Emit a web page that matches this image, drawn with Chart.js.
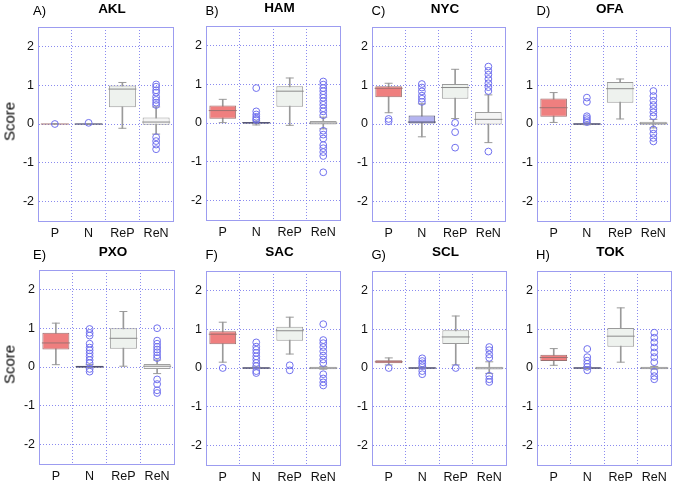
<!DOCTYPE html>
<html><head><meta charset="utf-8">
<script src="https://cdn.jsdelivr.net/npm/chart.js@4/dist/chart.umd.min.js"></script>
<style>
html,body{margin:0;padding:0;background:#fff;}
body{width:685px;height:483px;position:relative;overflow:hidden;font-family:"Liberation Sans",Arial,sans-serif;}
canvas{position:absolute;}
.ttl{position:absolute;font-weight:bold;font-size:13.5px;line-height:13.5px;text-align:center;color:#000;white-space:nowrap;}
.lbl{position:absolute;font-size:13px;line-height:13px;color:#000;white-space:nowrap;}
.score{position:absolute;font-family:"Liberation Sans",Arial,sans-serif;font-weight:normal;font-size:15px;line-height:15px;width:60px;height:15px;text-align:center;transform:rotate(-90deg);color:#000;}
</style></head><body>
<script>
// ---------- data ----------
const categories = ['P', 'N', 'ReP', 'ReN'];
const cities = ['AKL', 'HAM', 'NYC', 'OFA', 'PXO', 'SAC', 'SCL', 'TOK'];
const panelLetters = ['A)', 'B)', 'C)', 'D)', 'E)', 'F)', 'G)', 'H)'];
const yTicks = [-2, -1, 0, 1, 2];
const yRange = [-2.5, 2.5];
const yTitle = 'Score';

// per panel, per category (P, N, ReP, ReN)
const boxLow = [
  [0, -0.01, 0.43, -0.02],
  [0.11, -0.02, 0.42, -0.04],
  [0.69, 0.0, 0.65, -0.01],
  [0.19, -0.02, 0.55, -0.02],
  [0.45, -0.02, 0.47, -0.05],
  [0.61, -0.02, 0.70, -0.03],
  [0.12, -0.02, 0.62, -0.04],
  [0.18, -0.02, 0.55, -0.03]
];
const boxHigh = [
  [0.01, 0.01, 0.99, 0.17],
  [0.45, 0.02, 0.95, 0.05],
  [0.97, 0.22, 1.03, 0.31],
  [0.66, 0.02, 1.08, 0.06],
  [0.88, 0.03, 1.00, 0.08],
  [0.95, 0.02, 1.06, 0.03],
  [0.20, 0.02, 0.97, 0.03],
  [0.34, 0.02, 1.03, 0.03]
];
const medians = [
  [0, 0, 0.90, 0.05],
  [0.32, 0.01, 0.82, 0.0],
  [0.92, 0.05, 0.94, 0.12],
  [0.42, 0, 0.91, 0.02],
  [0.62, 0.01, 0.74, 0.02],
  [0.87, 0, 0.96, 0.0],
  [0.16, 0, 0.80, 0.0],
  [0.27, 0, 0.82, 0.0]
];
const whiskerLow = [
  [0, 0, -0.11, -0.26],
  [0.01, -0.05, -0.06, -0.15],
  [0.29, -0.33, 0.14, -0.48],
  [0.04, -0.02, 0.13, -0.10],
  [0.06, -0.02, 0.02, -0.17],
  [0.15, -0.02, 0.36, -0.03],
  [0.08, -0.02, 0.08, -0.14],
  [0.07, -0.02, 0.15, -0.03]
];
const whiskerHigh = [
  [0.01, 0.01, 1.07, 0.44],
  [0.61, 0.05, 1.16, 0.15],
  [1.05, 0.52, 1.41, 0.75],
  [0.81, 0.03, 1.16, 0.12],
  [1.13, 0.06, 1.43, 0.18],
  [1.18, 0.03, 1.31, 0.04],
  [0.26, 0.03, 1.34, 0.16],
  [0.50, 0.03, 1.55, 0.04]
];
const outliers = [
  [[0.0], [0.03], [], [1.02, 0.96, 0.87, 0.81, 0.70, 0.62, 0.55, 0.49, -0.34, -0.44, -0.53, -0.65]],
  [[], [0.90, 0.30, 0.22, 0.16, 0.11, 0.08], [], [1.07, 0.99, 0.90, 0.82, 0.73, 0.65, 0.56, 0.47, 0.38, 0.30, 0.20, -0.20, -0.30, -0.40, -0.57, -0.65, -0.75, -0.85, -1.27]],
  [[0.13, 0.07], [1.03, 0.94, 0.84, 0.73, 0.65, 0.57], [0.03, -0.21, -0.61], [1.48, 1.37, 1.27, 1.16, 1.05, 0.95, 0.85, -0.71]],
  [[], [0.68, 0.57, 0.20, 0.15, 0.10, 0.05], [], [0.85, 0.72, 0.60, 0.49, 0.39, 0.30, 0.20, -0.14, -0.25, -0.36, -0.45]],
  [[], [0.98, 0.88, 0.81, 0.60, 0.50, 0.43, 0.35, 0.27, 0.18, 0.10, -0.05, -0.12], [], [1.00, 0.68, 0.60, 0.52, 0.45, 0.38, 0.30, 0.23, -0.32, -0.44, -0.60, -0.67]],
  [[0.0], [0.66, 0.55, 0.47, 0.39, 0.30, 0.22, 0.13, 0.05, -0.08, -0.13], [0.07, -0.06], [1.13, 0.72, 0.64, 0.54, 0.43, 0.32, 0.22, 0.13, -0.16, -0.27, -0.37, -0.45]],
  [[0.0], [0.25, 0.18, 0.12, 0.05, -0.08, -0.16], [0.0], [0.54, 0.46, 0.35, 0.26, -0.20, -0.29, -0.36]],
  [[], [0.49, 0.28, 0.19, 0.11, 0.03, -0.06], [], [0.91, 0.78, 0.66, 0.53, 0.40, 0.28, 0.15, -0.10, -0.21, -0.29]]
];

// ---------- styles / layout ----------
const boxFill = ['#ef7f7f', '#b4b4f0', '#eef2ee', '#f4f4f4'];
const boxEdge = ['#9a7070', '#555574', '#9a9a9a', '#a0a0a0'];
const medianColor = ['#a07070', '#505070', '#8a8a8a', '#8a8a8a'];
const whiskerColor = '#9a9a9a';
const outlierColor = '#7070ee';
const gridColor = 'rgba(110,110,235,0.8)';
const frameColor = '#9c9cf0';
// plot rectangles [left, right, top, bottom]
const plotRects = [
  [38, 186, 22, 221], [206, 353, 21, 220], [372, 518, 22, 221], [537, 683, 22, 221],
  [39, 187, 265, 464], [206, 353, 266, 465], [372, 519, 266, 465], [537, 684, 266, 465]
];
const letterX = [33, 205.5, 371.5, 536.5, 33, 205.5, 371.5, 536];
const titleBaseline = [13, 12, 13, 13, 256.5, 256.5, 256.5, 256.5];
const letterBaseline = [15, 14.5, 15, 15, 258.5, 258.5, 258.5, 258.5];
const tickFont = { size: 12.5, family: '"Liberation Sans", Arial, sans-serif' };

const framePlugin = {
  id: 'frame',
  afterDraw(chart) {
    const { ctx, chartArea: a } = chart;
    ctx.save();
    ctx.strokeStyle = frameColor;
    ctx.lineWidth = 1;
    ctx.strokeRect(Math.round(a.left) + 0.5, Math.round(a.top) + 0.5,
      Math.round(a.right - a.left), Math.round(a.bottom - a.top));
    ctx.restore();
  }
};

cities.forEach((city, i) => {
  const [L, R, T, B] = plotRects[i];
  const w = R - L + 42, h = B - T + 34;
  const cv = document.createElement('canvas');
  cv.width = w; cv.height = h;
  cv.style.left = (L - 40) + 'px'; cv.style.top = (T - 10) + 'px';
  cv.style.width = w + 'px'; cv.style.height = h + 'px';
  document.body.appendChild(cv);

  const outPts = [];
  outliers[i].forEach((vals, c) => vals.forEach(v => outPts.push({ x: categories[c], y: v })));

  new Chart(cv, {
    type: 'bar',
    data: {
      labels: categories,
      datasets: [
        { type: 'bar', data: categories.map((c, k) => [whiskerLow[i][k], whiskerHigh[i][k]]),
          backgroundColor: whiskerColor, borderWidth: 0, barThickness: 1, grouped: false, order: 5 },
        { type: 'bar', data: categories.map((c, k) => [boxLow[i][k], boxHigh[i][k]]),
          backgroundColor: boxFill, borderColor: boxEdge, borderWidth: 1, borderSkipped: false,
          barPercentage: 0.8, categoryPercentage: 1, grouped: false, order: 4 },
        { type: 'line', data: medians[i], showLine: false, pointStyle: 'line', pointRadius: 14,
          pointHoverRadius: 14, pointBorderColor: medianColor, pointBorderWidth: 1, order: 3 },
        { type: 'line', data: whiskerHigh[i], showLine: false, pointStyle: 'line', pointRadius: 4,
          pointHoverRadius: 4, pointBorderColor: whiskerColor, pointBorderWidth: 1, order: 2 },
        { type: 'line', data: whiskerLow[i], showLine: false, pointStyle: 'line', pointRadius: 4,
          pointHoverRadius: 4, pointBorderColor: whiskerColor, pointBorderWidth: 1, order: 2 },
        { type: 'line', data: outPts, showLine: false, pointStyle: 'circle', pointRadius: 3.4,
          pointHoverRadius: 3.4, pointBorderColor: outlierColor, pointBackgroundColor: 'rgba(255,255,255,0)',
          pointBorderWidth: 1, order: 1 }
      ]
    },
    options: {
      responsive: false, animation: false, devicePixelRatio: 1, events: [],
      layout: { padding: { top: 10, right: 2, left: 0, bottom: 0 } },
      plugins: { legend: { display: false }, tooltip: { enabled: false }, title: { display: false } },
      scales: {
        x: {
          grid: { color: gridColor, lineWidth: 1, drawTicks: false, offset: true },
          border: { display: true, color: frameColor, dash: [1, 2] },
          ticks: { padding: 5, color: '#111', font: tickFont },
          afterFit: s => { s.height = 24; }
        },
        y: {
          min: yRange[0], max: yRange[1],
          afterBuildTicks: s => { s.ticks = yTicks.map(v => ({ value: v })); },
          grid: { color: gridColor, lineWidth: 1, drawTicks: false },
          border: { display: true, color: frameColor, dash: [1, 2] },
          ticks: { padding: 4, color: '#111', font: tickFont, callback: v => String(v) },
          afterFit: s => { s.width = 40; }
        }
      }
    },
    plugins: [framePlugin]
  });

  const t = document.createElement('div');
  t.className = 'ttl'; t.textContent = city;
  t.style.left = L + 'px'; t.style.width = (R - L) + 'px';
  t.style.top = (titleBaseline[i] - 11.43) + 'px';
  document.body.appendChild(t);

  const l = document.createElement('div');
  l.className = 'lbl'; l.textContent = panelLetters[i];
  l.style.left = letterX[i] + 'px';
  l.style.top = (letterBaseline[i] - 11.0) + 'px';
  document.body.appendChild(l);

  if (i % 4 === 0) {
    const s = document.createElement('div');
    s.className = 'score'; s.textContent = yTitle;
    s.style.left = (9 - 30) + 'px';
    s.style.top = ((T + B) / 2 - 7.5) + 'px';
    document.body.appendChild(s);
  }
});
</script>
</body></html>
